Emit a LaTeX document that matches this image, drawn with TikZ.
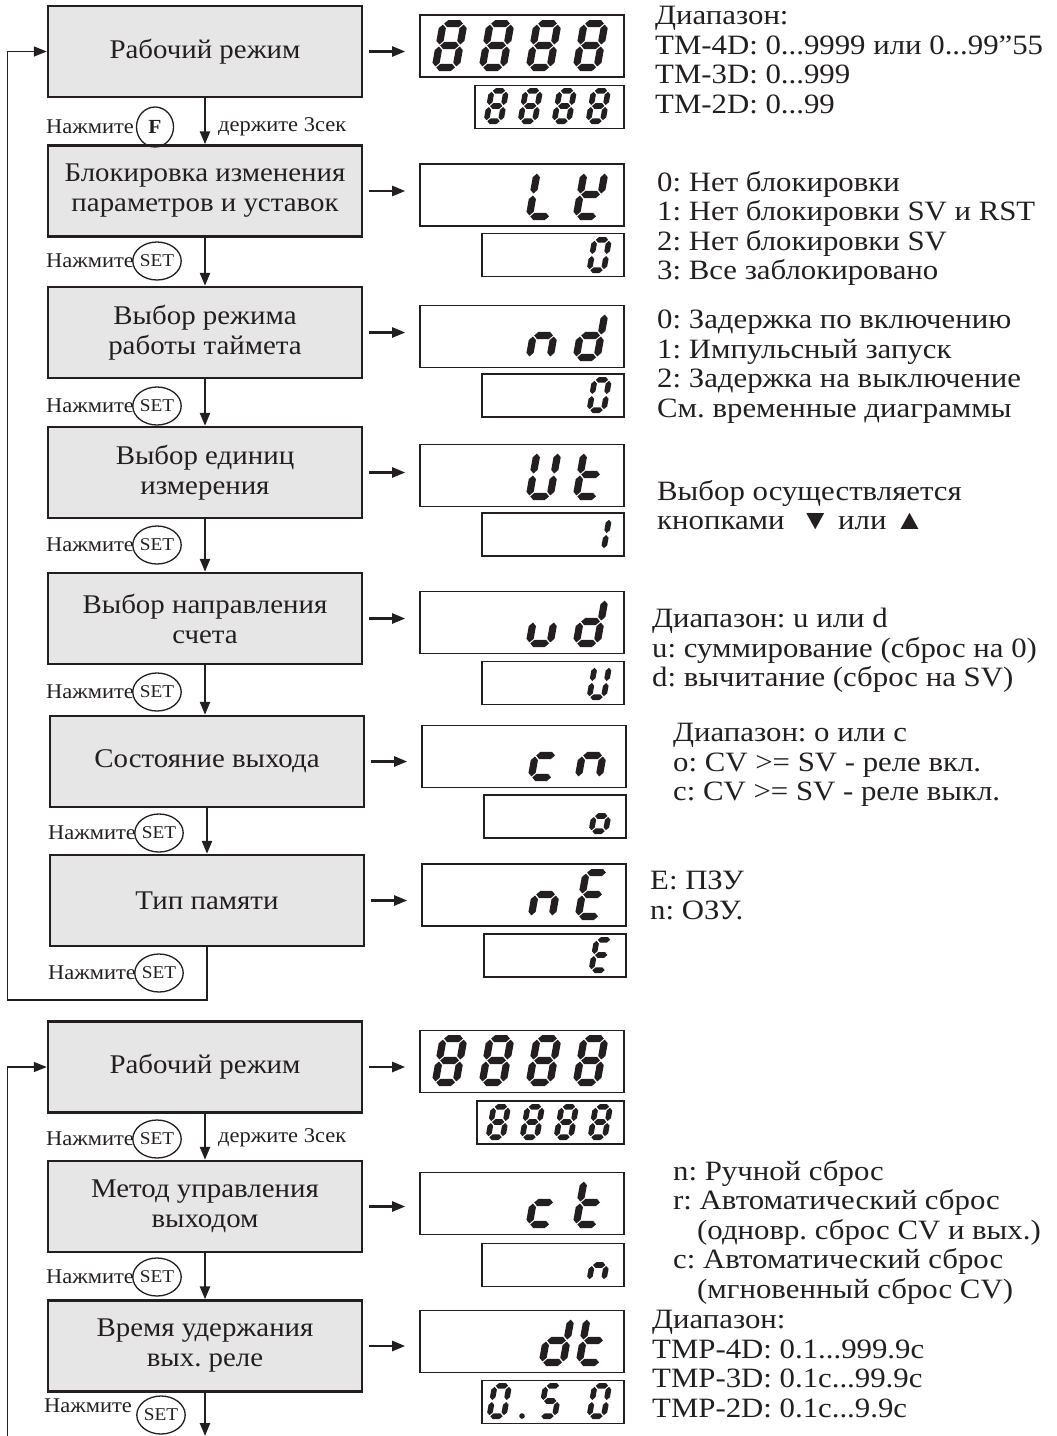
\documentclass[tikz,border=0pt]{standalone}
\usepackage{fontspec}
\usepackage{graphicx}
\setmainfont{Liberation Serif}[FakeStretch=1.07]
\newfontfamily\rtfont{Liberation Serif}[FakeStretch=1.1]
\usetikzlibrary{arrows.meta,shapes.geometric}
\definecolor{ink}{HTML}{231F20}
\definecolor{boxfill}{HTML}{E6E6E6}
\makeatletter
\def\sgh{3}\def\sgg{1}
\newcommand\hsg[3]{\fill ({#1+\sgg},{#3}) -- ({#1+\sgg+\sgh},{#3+\sgh}) -- ({#2-\sgg-\sgh},{#3+\sgh}) -- ({#2-\sgg},{#3}) -- ({#2-\sgg-\sgh},{#3-\sgh}) -- ({#1+\sgg+\sgh},{#3-\sgh}) -- cycle;}
\newcommand\vsg[3]{\fill ({#1},{#2+\sgg}) -- ({#1+\sgh},{#2+\sgg+\sgh}) -- ({#1+\sgh},{#3-\sgg-\sgh}) -- ({#1},{#3-\sgg}) -- ({#1-\sgh},{#3-\sgg-\sgh}) -- ({#1-\sgh},{#2+\sgg+\sgh}) -- cycle;}
\newcommand\segdig[5]{%
 \begin{scope}[shift={(#1,#2)},xslant=0.18,yscale=-1,fill=ink]
 \pgfmathsetmacro\sL{\sgh}\pgfmathsetmacro\sR{#3-\sgh}%
 \pgfmathsetmacro\sB{\sgh}\pgfmathsetmacro\sT{#4-\sgh}\pgfmathsetmacro\sM{#4/2}%
 \in@{a}{#5}\ifin@\hsg{\sL}{\sR}{\sT}\fi
 \in@{b}{#5}\ifin@\vsg{\sR}{\sM}{\sT}\fi
 \in@{c}{#5}\ifin@\vsg{\sR}{\sB}{\sM}\fi
 \in@{d}{#5}\ifin@\hsg{\sL}{\sR}{\sB}\fi
 \in@{e}{#5}\ifin@\vsg{\sL}{\sB}{\sM}\fi
 \in@{f}{#5}\ifin@\vsg{\sL}{\sM}{\sT}\fi
 \in@{g}{#5}\ifin@\hsg{\sL}{\sR}{\sM}\fi
 \end{scope}}
\makeatother
\newcommand\bdig[3]{\def\sgh{3.6}\segdig{#1}{#2}{28}{51}{#3}}
\newcommand\sdig[3]{\def\sgh{2.8}\segdig{#1}{#2}{20}{36}{#3}}
\frenchspacing
\begin{document}
\begin{tikzpicture}[x=1pt,y=-1pt,
  box/.style={draw=ink,line width=2.4pt,fill=boxfill,minimum width=314pt,minimum height=91pt,inner sep=0pt,align=center,font=\fontsize{27}{30}\selectfont,text=ink},
  disp/.style={draw=ink,line width=1.6pt,inner sep=0pt,minimum width=204pt,minimum height=62pt},
  sdisp/.style={draw=ink,line width=1.6pt,inner sep=0pt,minimum width=142pt,minimum height=43pt},
  flow/.style={draw=ink,line width=2.4pt,-{Triangle[length=13pt,width=10pt]}},
  reta/.style={draw=ink,line width=1.4pt,-{Triangle[length=13pt,width=10pt]}},
  rt/.style={anchor=north west,align=left,inner sep=0pt,font=\rtfont\fontsize{28}{29.5}\selectfont,text=ink},
  press/.style={anchor=west,inner sep=0pt,font=\fontsize{21}{23}\selectfont,text=ink},
  btn/.style={draw=ink,line width=1.3pt,ellipse,minimum width=40pt,minimum height=38pt,inner sep=0pt,font=\fontsize{18}{20}\selectfont,text=ink}
]
\useasboundingbox (0,0) rectangle (1057,1436);
% ---------- boxes ----------
\node[box] (b1) at (205,51.5) {Рабочий режим};
\node[box] (b2) at (205,191) {Блокировка изменения\\параметров и уставок};
\node[box] (b3) at (205,332.5) {Выбор режима\\работы таймета};
\node[box] (b4) at (205,472.5) {Выбор единиц\\измерения};
\node[box] (b5) at (205,618.5) {Выбор направления\\счета};
\node[box] (b6) at (207,761.5) {Состояние выхода};
\node[box] (b7) at (207,900.5) {Тип памяти};
\node[box] (b8) at (205,1067) {Рабочий режим};
\node[box] (b9) at (205,1206.5) {Метод управления\\выходом};
\node[box] (b10) at (205,1346) {Время удержания\\вых. реле};
% ---------- displays ----------
\node[disp] (d1) at (522,46) {};
\node[disp] (d2) at (522,195) {};
\node[disp] (d3) at (522,336.5) {};
\node[disp] (d4) at (522,475.5) {};
\node[disp] (d5) at (522,622.5) {};
\node[disp] (d6) at (524,756.5) {};
\node[disp] (d7) at (524,895) {};
\node[disp] (d8) at (522,1061.5) {};
\node[disp] (d9) at (522,1203.5) {};
\node[disp] (d10) at (522,1341.5) {};
\node[sdisp,minimum width=149pt] (s1) at (549.5,107) {};
\node[sdisp] (s2) at (553,255) {};
\node[sdisp] (s3) at (553,395.5) {};
\node[sdisp] (s4) at (553,534.5) {};
\node[sdisp] (s5) at (553,683) {};
\node[sdisp] (s6) at (555,816.5) {};
\node[sdisp] (s7) at (555,955.5) {};
\node[sdisp,minimum width=147pt] (s8) at (550.5,1122.5) {};
\node[sdisp] (s9) at (553,1265) {};
\node[sdisp] (s10) at (553,1402) {};
% ---------- digits ----------
\bdig{431}{71}{abcdefg}\bdig{478}{71}{abcdefg}\bdig{525}{71}{abcdefg}\bdig{572}{71}{abcdefg}
\sdig{483}{124}{abcdefg}\sdig{517}{124}{abcdefg}\sdig{551}{124}{abcdefg}\sdig{585}{124}{abcdefg}
\bdig{525}{220}{def}\bdig{572}{220}{bdefg}
\sdig{586}{273}{abcdef}
\bdig{525}{361}{ceg}\bdig{572}{361}{bcdeg}
\sdig{586}{413}{abcdef}
\bdig{525}{500}{bcdef}\bdig{572}{500}{defg}
\sdig{586}{552}{bc}
\bdig{525}{647}{cde}\bdig{572}{647}{bcdeg}
\sdig{586}{700}{bcdef}
\bdig{527}{781}{deg}\bdig{574}{781}{ceg}
\sdig{588}{834}{cdeg}
\bdig{527}{920}{ceg}\bdig{574}{920}{adefg}
\sdig{588}{973}{adefg}
\bdig{431}{1086}{abcdefg}\bdig{478}{1086}{abcdefg}\bdig{525}{1086}{abcdefg}\bdig{572}{1086}{abcdefg}
\sdig{485}{1140}{abcdefg}\sdig{519}{1140}{abcdefg}\sdig{553}{1140}{abcdefg}\sdig{587}{1140}{abcdefg}
\bdig{525}{1228}{deg}\bdig{572}{1228}{defg}
\sdig{586}{1283}{ceg}
\bdig{538}{1366}{bcdeg}\bdig{575}{1366}{defg}
\sdig{486}{1419}{abcdef}\sdig{537}{1419}{acdfg}\sdig{586}{1419}{abcdef}
\fill[ink] (522,1416) circle (2.8);
% ---------- flow arrows ----------
\draw[flow] (b1.south) -- (b2.north);
\draw[flow] (b2.south) -- (b3.north);
\draw[flow] (b3.south) -- (b4.north);
\draw[flow] (b4.south) -- (b5.north);
\draw[flow] (b5.south) -- (b5.south |- b6.north);
\draw[flow] (b6.south) -- (b7.north);
\draw[flow] (b8.south) -- (b9.north);
\draw[flow] (b9.south) -- (b10.north);
\coordinate (r1) at (207,1001);
\coordinate (r2) at (7.5,1000);
\coordinate (r3) at (7.5,1436);
\coordinate (r4) at (205,1436);
\draw[draw=ink,line width=2.4pt] (b7.south) -- (r1);
\draw[reta] (r1 |- r2) -- (r2) |- (b1.west);
\draw[reta] (r3) |- (b8.west);
\draw[flow] (b10.south) -- (r4);
% ---------- display arrows ----------
\foreach \i in {1,...,10}{\draw[flow] ([xshift=6pt]b\i.east) -- ([xshift=-14pt]b\i.east -| d\i.west);}
% ---------- press labels ----------
\node[press] (p1) at (46,127) {Нажмите};
\node[btn,minimum width=37pt,minimum height=40pt,font=\fontsize{20}{22}\selectfont\bfseries] (c1) at (155,127) {F};
\node[press] (h1) at (218,127) {держите 3сек};
\node[press] (p2) at (46,261) {Нажмите}; \node[btn] (c2) at (157,261) {SET};
\node[press] (p3) at (46,406) {Нажмите}; \node[btn] (c3) at (157,406) {SET};
\node[press] (p4) at (46,545) {Нажмите}; \node[btn] (c4) at (157,545) {SET};
\node[press] (p5) at (46,692) {Нажмите}; \node[btn] (c5) at (157,692) {SET};
\node[press] (p6) at (48,833) {Нажмите}; \node[btn] (c6) at (159,833) {SET};
\node[press] (p7) at (48,973) {Нажмите}; \node[btn] (c7) at (159,973) {SET};
\node[press] (p8) at (46,1139) {Нажмите}; \node[btn] (c8) at (157,1139) {SET};
\node[press] (h8) at (218,1138) {держите 3сек};
\node[press] (p9) at (46,1277) {Нажмите}; \node[btn] (c9) at (157,1277) {SET};
\node[press] (p10) at (44,1406) {Нажмите}; \node[btn] (c10) at (161,1415) {SET};
% ---------- right texts ----------
\node[rt] (t1) at (655,6) {Диапазон:\\TM-4D: 0...9999 или 0...99”55\\TM-3D: 0...999\\TM-2D: 0...99};
\node[rt] (t2) at (657,171) {0: Нет блокировки\\1: Нет блокировки SV и RST\\2: Нет блокировки SV\\3: Все заблокировано};
\node[rt] (t3) at (657,310) {0: Задержка по включению\\1: Импульсный запуск\\2: Задержка на выключение\\См. временные диаграммы};
\node[rt] (t4) at (657,480) {Выбор осуществляется\\кнопками\ \ ▼ или ▲};
\node[rt] (t5) at (652,608) {Диапазон: u или d\\u: суммирование (сброс на 0)\\d: вычитание (сброс на SV)};
\node[rt] (t6) at (673,723) {Диапазон: o или c\\o: CV >= SV - реле вкл.\\c: CV >= SV - реле выкл.};
\node[rt] (t7) at (650,871) {E: ПЗУ\\n: ОЗУ.};
\node[rt] (t9) at (673,1160) {n: Ручной сброс\\r: Автоматический сброс\\\hspace*{24pt}(одновр. сброс CV и вых.)\\c: Автоматический сброс\\\hspace*{24pt}(мгновенный сброс CV)};
\node[rt] (t10) at (652,1310) {Диапазон:\\TMP-4D: 0.1...999.9c\\TMP-3D: 0.1c...99.9c\\TMP-2D: 0.1c...9.9c};
\end{tikzpicture}
\end{document}
